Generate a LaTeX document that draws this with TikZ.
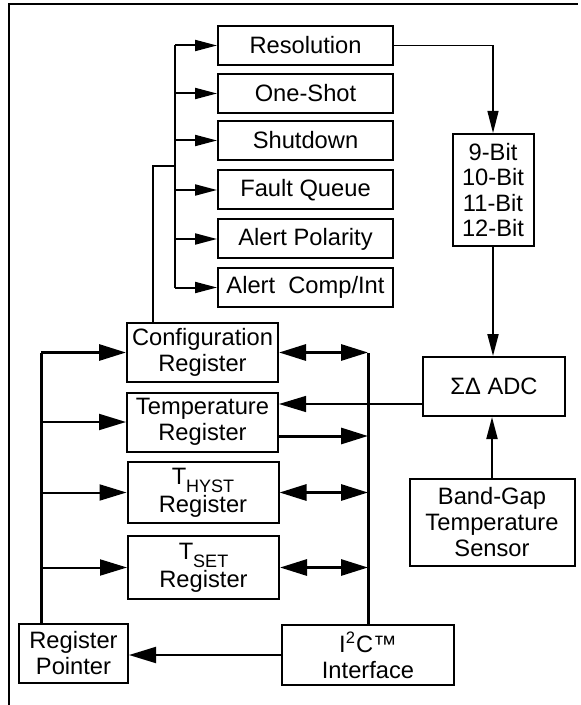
\documentclass[tikz,border=0pt]{standalone}
\usepackage{fontspec}
\setmainfont{Liberation Sans}
\usetikzlibrary{calc, arrows.meta}

\begin{document}
\begin{tikzpicture}[x=0.5pt, y=-0.5pt,
    box/.style={draw, line width=1pt, inner sep=0pt, align=center, font=\fontsize{11.85}{13}\selectfont},
    regbox/.style={box, minimum width=75.5pt, minimum height=29.5pt},
    optbox/.style={box, minimum width=87.5pt, minimum height=19.5pt},
    wire/.style={line width=1pt},
    bus/.style={line width=1.5pt},
    hair/.style={line width=0.6pt},
    small/.style={-{Triangle[length=11pt,width=5.5pt]}},
    big/.style={-{Triangle[length=13.5pt,width=8pt]}},
    both/.style={{Triangle[length=13.5pt,width=8pt]}-{Triangle[length=13.5pt,width=8pt]}}]
    \useasboundingbox (0,0) rectangle (580,705);
    \draw[line width=1pt] (8.5,705)--(8.5,4.5)--(578,4.5);
    % option boxes
    \node[optbox] (res) at (305.5,45.5) {Resolution};
    \node[optbox] (one) at (305.5,93.5) {One-Shot};
    \node[optbox] (shut) at (305.5,140.5) {Shutdown};
    \node[optbox] (fault) at (305.5,190) {Fault Queue};
    \node[optbox] (pol) at (305.5,239) {Alert Polarity};
    \node[optbox] (comp) at (305.5,287.5) {Alert\ \ Comp/Int};
    % registers
    \node[regbox] (cfg) at (202.5,352.5) {Configuration\\Register};
    \node[regbox] (temp) at (202.5,422) {Temperature\\Register};
    \node[regbox, minimum height=30.5pt] (hyst) at (203,492.5) {T\raisebox{-0.35em}[0pt][0pt]{\fontsize{9}{9}\selectfont HYST}\\[1pt]Register};
    \node[regbox, minimum height=31.5pt] (tset) at (203.5,567.5) {T\raisebox{-0.35em}[0pt][0pt]{\fontsize{9}{9}\selectfont SET}\\[1pt]Register};
    \node[box, minimum width=54.5pt, minimum height=29.5pt] (ptr) at (73.5,653.5) {Register\\Pointer};
    \node[box, minimum width=86pt, minimum height=30pt] (i2c) at (368,655) {I\textsuperscript{2}C™\\Interface};
    % converter side
    \node[box, minimum width=40.5pt, minimum height=56pt, font=\fontsize{11.85}{12.6}\selectfont] (bits) at (493,190) {9-Bit\\10-Bit\\11-Bit\\12-Bit};
    \node[box, minimum width=71pt, minimum height=29.5pt] (adc) at (494,386.5) {ΣΔ ADC};
    \node[box, minimum width=82.5pt, minimum height=43.5pt] (bg) at (492,522.5) {Band-Gap\\Temperature\\Sensor};
    % fan-out to the option boxes
    \coordinate (fan) at (175,166);
    \coordinate (tap) at (153,166);
    \draw[wire] (fan |- res.west)--(fan |- comp.west);
    \draw[wire, small] (fan |- res.west)--(res.west);
    \draw[wire, small] (fan |- one.west)--(one.west);
    \draw[wire, small] (fan |- shut.west)--(shut.west);
    \draw[wire, small] (fan |- fault.west)--(fault.west);
    \draw[wire, small] (fan |- pol.west)--(pol.west);
    \draw[wire, small] (fan |- comp.west)--(comp.west);
    \draw[wire] (fan)--(tap)--(tap |- cfg.north);
    % resolution and ADC path
    \draw[hair, small] (res.east)-|(bits.north);
    \draw[wire, small] (bits.south)--(bits.south |- adc.north);
    \draw[wire, small] (bg.north)--(bg.north |- adc.south);
    \coordinate (adcout) at ($(adc.west)+(0,17.5)$);
    \draw[hair, big] (adcout)--(temp.east |- adcout);
    % register pointer bus
    \coordinate (lbus) at (41,352.5);
    \draw[bus] (lbus)--(lbus |- ptr.north);
    \draw[bus, big] (lbus)--(cfg.west);
    \draw[wire, big] (lbus |- temp.west)--(temp.west);
    \draw[wire, big] (lbus |- hyst.west)--(hyst.west);
    \draw[wire, big] (lbus |- tset.west)--(tset.west);
    % serial interface bus
    \draw[bus] (i2c.north)--(i2c.north |- cfg.east);
    \draw[bus, both] (cfg.east)--(i2c.north |- cfg.east);
    \coordinate (tempout) at ($(temp.east)+(0,14)$);
    \draw[bus, big] (tempout)--(i2c.north |- tempout);
    \draw[bus, both] (hyst.east)--(i2c.north |- hyst.east);
    \draw[bus, both] (tset.east)--(i2c.north |- tset.east);
    \draw[wire, big] (i2c.west)--(ptr.east |- i2c.west);
\end{tikzpicture}
\end{document}
